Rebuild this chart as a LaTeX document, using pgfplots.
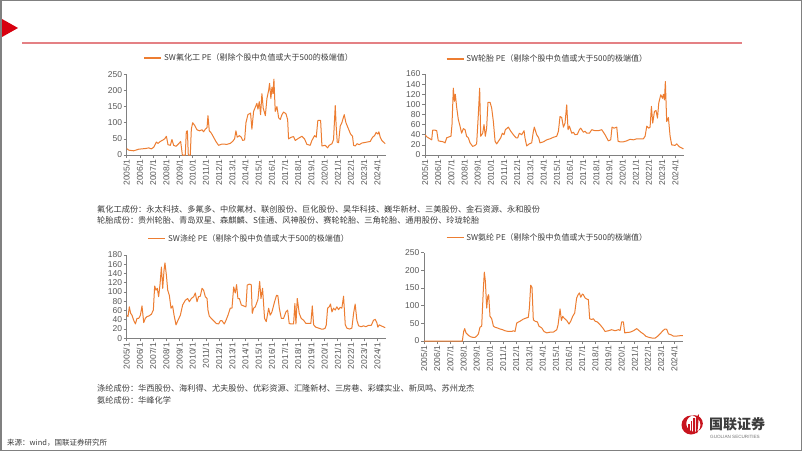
\documentclass[border=0pt]{standalone}
\usepackage{pgfplots}
\pgfplotsset{compat=1.18}
\usepackage{fontspec}
\setmainfont{Liberation Sans}
\newfontfamily\cjk{Noto Sans CJK SC}
\definecolor{lo}{RGB}{237,125,49}
\definecolor{tk}{RGB}{89,89,89}
\definecolor{ax}{RGB}{128,128,128}
\definecolor{redline}{RGB}{228,128,132}
\definecolor{tri}{RGB}{215,0,15}
\definecolor{logored}{RGB}{200,20,30}
\definecolor{txt}{RGB}{60,60,60}
\pgfplotsset{
 pe/.style={
  scale only axis, anchor=south west,
  xmin=0, xmax=19.65, ymin=0,
  axis x line*=bottom, axis y line*=left,
  axis line style={draw=ax, line width=0.6pt},
  xtick={0,...,19},
  xticklabels={2005/1,2006/1,2007/1,2008/1,2009/1,2010/1,2011/1,2012/1,2013/1,2014/1,2015/1,2016/1,2017/1,2018/1,2019/1,2020/1,2021/1,2022/1,2023/1,2024/1},
  xticklabel style={rotate=90, anchor=east, font=\fontsize{8.5}{9}\selectfont, text=tk, inner sep=1.5pt},
  yticklabel style={font=\fontsize{8.5}{9}\selectfont, text=tk, inner sep=1.5pt},
  tick style={draw=ax, line width=0.6pt},
  major tick length=3pt, tick align=outside,
  /pgf/number format/assume math mode=true,
  legend style={draw=none, fill=none, font=\cjk\fontsize{8}{9}\selectfont, text=txt, legend cell align=left, inner sep=0pt},
  legend image code/.code={\draw[lo, line width=1.5pt] (0pt,0pt) -- (17pt,0pt);},
  cycle list={{lo, line width=1pt, line join=round, mark=none}},
 }
}
\begin{document}
\begin{tikzpicture}[x=1pt,y=1pt]
\useasboundingbox (0,0) rectangle (802,451);
\fill[white] (0,0) rectangle (802,451);
\draw[ax, line width=1.5pt] (0.75,0.75) rectangle (801.25,450.25);
\fill[tri] (2,432) -- (18,423) -- (2,414) -- cycle;
\draw[redline, line width=1.2pt] (22,408) -- (742,408);

% Chart 1
\begin{axis}[pe, at={(126.7pt,296pt)}, width=259.2pt, height=80.7pt, ymax=250, ytick={0,50,...,250},
 legend style={at={(0.473,1.202)}, anchor=center}]
\addplot[lo, line width=1pt, line join=round, mark=none] coordinates {(0,20)(0.15,15)(0.53,13)(0.91,18)(1.41,20)(1.67,22)(1.87,19)(2.05,24)(2.25,40)(2.37,36)(2.55,42)(2.73,46)(2.88,50)(3.01,58)(3.13,32)(3.31,30)(3.43,48)(3.56,30)(3.74,27)(3.94,35)(4.09,42)(4.22,0)(4.44,0)(4.52,72)(4.60,75)(4.67,0)(4.82,0)(4.90,80)(5.00,100)(5.15,92)(5.33,78)(5.51,75)(5.71,78)(5.83,72)(5.96,80)(6.09,85)(6.16,122)(6.26,75)(6.41,68)(6.59,55)(6.79,40)(6.97,30)(7.22,34)(7.60,33)(7.85,36)(8.03,42)(8.18,50)(8.28,75)(8.38,55)(8.54,60)(8.69,55)(8.79,45)(8.94,47)(9.04,100)(9.19,125)(9.39,130)(9.49,80)(9.62,135)(9.75,148)(9.87,160)(9.95,142)(10.05,165)(10.15,125)(10.25,190)(10.35,145)(10.51,122)(10.63,175)(10.76,200)(10.83,222)(10.93,175)(11.01,210)(11.09,190)(11.16,235)(11.26,135)(11.39,150)(11.52,115)(11.64,110)(11.77,125)(11.89,133)(12.07,128)(12.20,110)(12.27,50)(12.47,55)(12.65,57)(12.78,45)(13.03,52)(13.28,58)(13.48,50)(13.66,33)(13.91,30)(14.04,45)(14.24,60)(14.37,55)(14.49,107)(14.70,107)(14.80,28)(15.05,30)(15.23,22)(15.35,30)(15.56,35)(15.68,48)(15.81,153)(15.88,90)(15.96,40)(16.06,38)(16.19,90)(16.31,100)(16.49,125)(16.62,100)(16.82,80)(16.97,65)(17.12,58)(17.20,30)(17.32,28)(17.47,35)(17.63,32)(17.83,37)(18.21,40)(18.46,42)(18.64,55)(18.79,60)(18.91,70)(19.04,65)(19.12,72)(19.22,55)(19.34,45)(19.47,40)(19.60,35)};
\legend{SW氟化工 PE（剔除个股中负值或大于500的极端值）}
\end{axis}

% Chart 2
\begin{axis}[pe, at={(425pt,296pt)}, width=258.8pt, height=81pt, ymax=160, ytick={0,20,...,160},
 legend style={at={(0.473,1.185)}, anchor=center}]
\addplot[lo, line width=1pt, line join=round, mark=none] coordinates {(0,40)(0.13,36)(0.25,34)(0.38,32)(0.51,30)(0.58,49)(0.76,49)(0.89,48)(1.01,28)(1.19,27)(1.39,26)(1.52,24)(1.65,34)(1.85,36)(1.97,37)(2.05,60)(2.15,132)(2.23,106)(2.30,120)(2.41,93)(2.53,70)(2.66,57)(2.78,43)(2.91,52)(3.04,50)(3.16,37)(3.29,34)(3.42,24)(3.62,17)(3.80,19)(3.92,22)(4.05,80)(4.15,132)(4.23,37)(4.38,43)(4.48,60)(4.58,37)(4.68,53)(4.78,104)(4.94,104)(5.06,93)(5.19,66)(5.32,27)(5.44,22)(5.57,27)(5.75,34)(5.87,43)(6.00,40)(6.10,50)(6.33,55)(6.51,47)(6.71,40)(6.91,34)(7.04,34)(7.16,43)(7.34,40)(7.52,48)(7.59,34)(7.72,18)(7.92,22)(8.10,24)(8.23,47)(8.30,55)(8.48,40)(8.63,34)(8.73,24)(8.99,26)(9.24,30)(9.49,32)(9.75,35)(10.00,37)(10.13,47)(10.25,76)(10.38,74)(10.51,55)(10.63,63)(10.76,99)(10.86,50)(10.96,57)(11.14,43)(11.27,45)(11.39,40)(11.57,41)(11.72,50)(11.82,53)(12.03,45)(12.15,47)(12.28,43)(12.48,43)(12.66,50)(12.91,48)(13.16,48)(13.42,50)(13.67,40)(13.92,28)(14.10,30)(14.20,55)(14.35,53)(14.56,55)(14.66,27)(14.81,26)(15.06,26)(15.32,28)(15.57,31)(15.82,30)(16.08,32)(16.33,32)(16.58,32)(16.71,37)(16.84,57)(16.99,53)(17.09,55)(17.19,96)(17.29,63)(17.42,86)(17.54,88)(17.65,73)(17.75,103)(17.90,119)(18.03,112)(18.10,120)(18.18,109)(18.25,145)(18.35,66)(18.48,74)(18.61,37)(18.73,20)(18.99,19)(19.11,22)(19.32,16)(19.49,14)(19.62,12)};
\legend{SW轮胎 PE（剔除个股中负值或大于500的极端值）}
\end{axis}

% Chart 3
\begin{axis}[pe, at={(126.7pt,112.7pt)}, width=259.2pt, height=83.3pt, ymax=180, ytick={0,20,...,180},
 legend style={at={(0.473,1.20)}, anchor=center}]
\addplot[lo, line width=1pt, line join=round, mark=none] coordinates {(0,50)(0.10,47)(0.20,68)(0.30,54)(0.40,50)(0.53,39)(0.66,31)(0.78,43)(0.91,43)(1.04,50)(1.16,70)(1.29,34)(1.41,43)(1.54,47)(1.67,48)(1.87,52)(2.02,61)(2.12,113)(2.22,104)(2.32,108)(2.42,90)(2.53,118)(2.63,154)(2.73,108)(2.83,147)(2.90,163)(3.01,136)(3.11,104)(3.23,93)(3.36,65)(3.48,70)(3.59,50)(3.74,29)(3.89,39)(4.07,50)(4.24,72)(4.44,82)(4.62,86)(4.75,79)(4.90,86)(5.08,90)(5.20,98)(5.33,79)(5.45,90)(5.58,91)(5.71,108)(5.83,104)(5.96,90)(6.09,86)(6.16,61)(6.26,48)(6.41,43)(6.59,38)(6.79,32)(6.97,31)(7.10,38)(7.22,38)(7.40,31)(7.53,39)(7.68,50)(7.85,65)(7.98,65)(8.11,111)(8.23,98)(8.33,116)(8.43,86)(8.54,86)(8.69,72)(8.86,70)(9.04,68)(9.14,115)(9.29,117)(9.44,116)(9.52,54)(9.62,65)(9.75,68)(9.95,84)(10.08,123)(10.18,86)(10.30,108)(10.45,43)(10.58,36)(10.76,65)(10.88,50)(11.01,57)(11.21,79)(11.36,93)(11.46,92)(11.57,65)(11.72,43)(11.89,43)(12.07,57)(12.20,61)(12.32,32)(12.47,31)(12.65,31)(12.75,75)(12.83,31)(12.93,86)(13.08,54)(13.23,43)(13.41,39)(13.59,32)(13.79,32)(13.96,32)(14.07,70)(14.17,29)(14.34,24)(14.55,22)(14.75,20)(14.92,20)(15.05,22)(15.13,29)(15.23,65)(15.35,68)(15.45,74)(15.56,57)(15.68,65)(15.81,61)(15.93,68)(16.06,62)(16.19,67)(16.31,65)(16.44,91)(16.57,29)(16.69,22)(16.89,20)(17.07,22)(17.20,54)(17.32,74)(17.45,39)(17.58,27)(17.78,25)(17.95,27)(18.13,25)(18.33,28)(18.54,28)(18.71,39)(18.84,41)(18.96,34)(19.04,24)(19.14,29)(19.29,27)(19.44,25)(19.60,23)};
\legend{SW涤纶 PE（剔除个股中负值或大于500的极端值）}
\end{axis}

% Chart 4
\begin{axis}[pe, at={(424pt,110pt)}, width=258.8pt, height=88.3pt, ymax=250, ytick={0,50,...,250},
 legend style={at={(0.477,1.17)}, anchor=center}]
\addplot[lo, line width=1pt, line join=round, mark=none] coordinates {(0,0)(2.91,0)(3.01,27)(3.09,35)(3.19,23)(3.37,16)(3.54,12)(3.75,10)(3.87,10)(4.00,14)(4.13,20)(4.25,39)(4.38,42)(4.51,150)(4.58,195)(4.66,169)(4.76,93)(4.84,126)(4.91,131)(5.01,70)(5.14,63)(5.27,42)(5.39,39)(5.57,37)(5.77,34)(5.97,32)(6.15,29)(6.41,27)(6.66,27)(6.78,29)(6.91,27)(7.04,51)(7.29,56)(7.54,62)(7.75,65)(7.92,67)(8.00,93)(8.10,158)(8.20,152)(8.30,60)(8.43,56)(8.61,54)(8.73,42)(8.94,37)(9.11,27)(9.32,23)(9.57,25)(9.82,25)(10.08,32)(10.18,46)(10.33,91)(10.43,58)(10.53,70)(10.63,65)(10.84,58)(11.01,48)(11.14,56)(11.29,70)(11.44,79)(11.59,122)(11.70,131)(11.80,136)(11.90,124)(12.03,133)(12.10,131)(12.23,122)(12.35,119)(12.48,117)(12.58,63)(12.73,61)(12.86,63)(12.99,56)(13.16,54)(13.37,46)(13.57,37)(13.75,27)(14.00,29)(14.25,32)(14.51,29)(14.76,32)(14.89,30)(15.01,54)(15.14,54)(15.24,23)(15.39,24)(15.65,25)(15.90,29)(16.15,35)(16.28,31)(16.46,25)(16.66,20)(16.86,13)(17.11,10)(17.37,8)(17.54,8)(17.72,13)(17.92,20)(18.13,29)(18.30,34)(18.43,33)(18.56,20)(18.73,18)(18.94,14)(19.19,14)(19.44,15)(19.70,15)};
\legend{SW氨纶 PE（剔除个股中负值或大于500的极端值）}
\end{axis}

% texts
\begin{scope}[every node/.style={anchor=west, inner sep=0pt, text=txt, font=\cjk\fontsize{8.2}{9}\selectfont}]
\node at (97,242) {氟化工成份：永太科技、多氟多、中欣氟材、联创股份、巨化股份、昊华科技、巍华新材、三美股份、金石资源、永和股份};
\node at (97,231) {轮胎成份：贵州轮胎、青岛双星、森麒麟、S佳通、风神股份、赛轮轮胎、三角轮胎、通用股份、玲珑轮胎};
\node at (97,63) {涤纶成份：华西股份、海利得、尤夫股份、优彩资源、汇隆新材、三房巷、彩蝶实业、新凤鸣、苏州龙杰};
\node at (97,50.5) {氨纶成份：华峰化学};
\node[font=\cjk\fontsize{7.5}{8}\selectfont] at (7,8.5) {来源：wind，国联证券研究所};
\end{scope}

% logo
\fill[logored, even odd rule] (691,26) circle (9.5) (694.5,27.5) circle (8.3);
\fill[logored] (688,18) rectangle (689.6,27);
\fill[logored] (690.6,18) rectangle (692.2,30);
\fill[logored] (693.2,18) rectangle (694.8,33);
\fill[logored] (695.8,18) -- (697.4,18) -- (699,37) -- (695.8,33) -- cycle;
\node[anchor=west, inner sep=0pt, text=txt, font=\cjk\bfseries\fontsize{14}{14}\selectfont] at (709,27) {国联证券};
\node[anchor=west, inner sep=0pt, text=black!55, font=\fontsize{4.6}{5}\selectfont] at (710,14) {GUOLIAN SECURITIES};
\end{tikzpicture}
\end{document}
